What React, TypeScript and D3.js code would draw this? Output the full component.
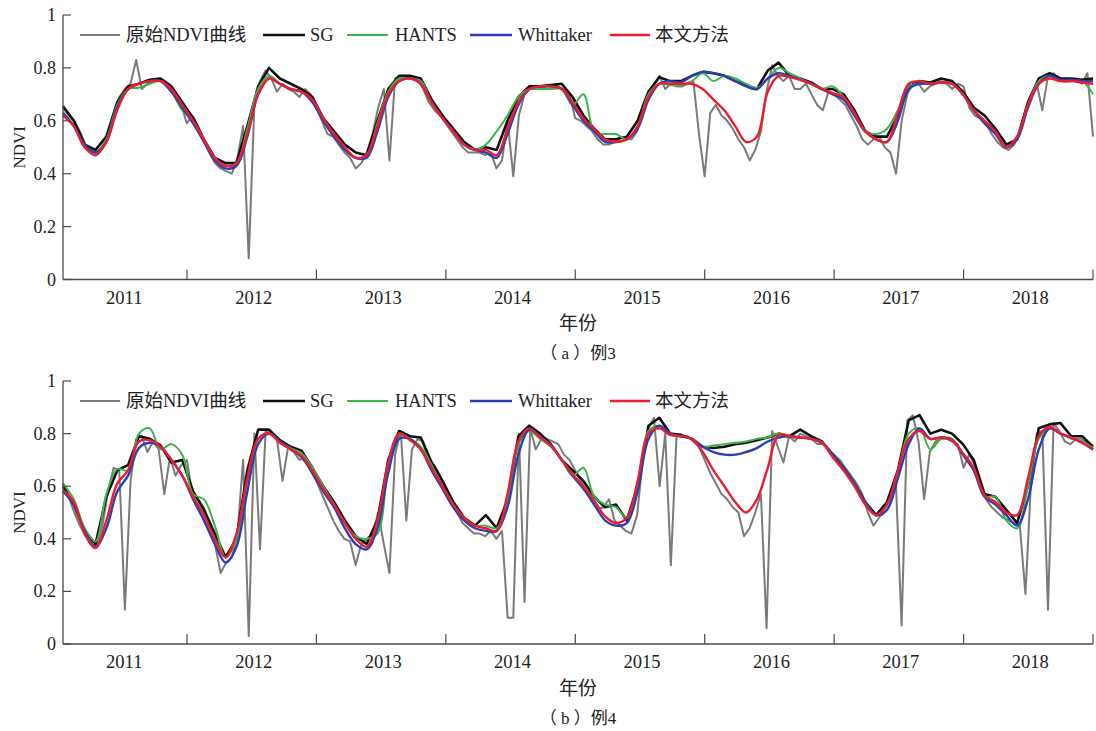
import React from "react";
import * as d3 from "d3";

// ---------- data ----------
const startYear = 2011.042;
const endYear = 2019.0;
const yearBoundaries = [2012, 2013, 2014, 2015, 2016, 2017, 2018, 2019];
const yearLabels = ["2011", "2012", "2013", "2014", "2015", "2016", "2017", "2018"];
const yTicks = [0, 0.2, 0.4, 0.6, 0.8, 1];
const seriesNames = ["原始NDVI曲线", "SG", "HANTS", "Whittaker", "本文方法"];

// panel (a) 例3 — raw 16-day NDVI (23 per year)
const rawA = [
  0.65,0.62,0.60,0.56,0.51,0.49,0.48,0.50,0.55,0.63,0.69,0.72,0.74,0.83,0.72,0.74,0.75,0.76,0.75,0.73,0.70,0.66,0.59,
  0.62,0.58,0.53,0.48,0.44,0.42,0.41,0.40,0.46,0.58,0.08,0.66,0.75,0.79,0.76,0.71,0.74,0.72,0.71,0.69,0.72,0.70,0.66,
  0.60,0.55,0.54,0.51,0.48,0.46,0.42,0.44,0.48,0.55,0.65,0.72,0.45,0.76,0.77,0.77,0.76,0.76,0.72,0.67,0.64,0.62,0.59,
  0.56,0.53,0.50,0.48,0.48,0.48,0.47,0.48,0.42,0.45,0.60,0.39,0.62,0.70,0.72,0.72,0.72,0.73,0.73,0.73,0.72,0.70,0.61,
  0.60,0.58,0.56,0.53,0.51,0.51,0.52,0.54,0.53,0.53,0.56,0.66,0.71,0.74,0.77,0.72,0.74,0.73,0.73,0.74,0.75,0.55,0.39,
  0.63,0.66,0.62,0.60,0.57,0.53,0.50,0.45,0.49,0.56,0.71,0.81,0.77,0.75,0.77,0.72,0.72,0.74,0.70,0.66,0.64,0.71,0.70,
  0.68,0.66,0.62,0.58,0.53,0.51,0.53,0.54,0.50,0.48,0.40,0.60,0.70,0.74,0.74,0.71,0.73,0.74,0.75,0.74,0.72,0.74,0.73,
  0.65,0.62,0.61,0.59,0.55,0.52,0.50,0.49,0.51,0.56,0.64,0.70,0.74,0.64,0.77,0.78,0.76,0.75,0.75,0.76,0.74,0.78,0.54,
];
// smoothed series (12 per year)
const sgA = [
  0.655,0.60,0.51,0.49,0.54,0.67,0.73,0.74,0.755,0.76,0.73,0.67,
  0.61,0.53,0.46,0.44,0.44,0.58,0.73,0.80,0.76,0.74,0.72,0.69,
  0.61,0.56,0.51,0.48,0.47,0.60,0.72,0.77,0.77,0.76,0.68,0.62,
  0.57,0.52,0.49,0.50,0.49,0.60,0.69,0.73,0.73,0.735,0.74,0.69,
  0.62,0.57,0.53,0.53,0.54,0.60,0.71,0.765,0.75,0.75,0.77,0.785,
  0.78,0.77,0.75,0.735,0.72,0.79,0.82,0.77,0.76,0.745,0.72,0.72,
  0.70,0.64,0.56,0.54,0.54,0.62,0.73,0.75,0.745,0.76,0.75,0.71,
  0.65,0.62,0.57,0.51,0.53,0.67,0.76,0.78,0.76,0.76,0.755,0.76,
];
const hantsA = [
  0.63,0.58,0.50,0.48,0.53,0.66,0.72,0.725,0.74,0.75,0.71,0.64,
  0.60,0.53,0.46,0.43,0.44,0.57,0.72,0.77,0.74,0.72,0.71,0.68,
  0.60,0.55,0.50,0.46,0.47,0.59,0.71,0.76,0.76,0.75,0.67,0.61,
  0.56,0.51,0.49,0.51,0.56,0.62,0.69,0.72,0.72,0.72,0.72,0.66,
  0.70,0.56,0.55,0.55,0.53,0.58,0.70,0.74,0.735,0.735,0.75,0.78,
  0.75,0.77,0.76,0.74,0.725,0.76,0.80,0.78,0.76,0.74,0.72,0.73,
  0.69,0.62,0.56,0.55,0.57,0.64,0.73,0.74,0.74,0.745,0.74,0.70,
  0.64,0.60,0.56,0.50,0.54,0.66,0.75,0.77,0.75,0.75,0.75,0.70,
];
const whittakerA = [
  0.63,0.58,0.51,0.48,0.52,0.65,0.72,0.74,0.75,0.75,0.71,0.65,
  0.59,0.52,0.45,0.42,0.43,0.54,0.70,0.76,0.74,0.72,0.71,0.67,
  0.60,0.54,0.49,0.46,0.46,0.56,0.69,0.75,0.76,0.74,0.67,0.61,
  0.56,0.51,0.49,0.48,0.46,0.55,0.66,0.72,0.73,0.73,0.72,0.66,
  0.60,0.56,0.52,0.52,0.53,0.57,0.68,0.74,0.75,0.745,0.77,0.785,
  0.78,0.77,0.75,0.73,0.72,0.76,0.78,0.77,0.755,0.74,0.72,0.70,
  0.68,0.62,0.56,0.53,0.52,0.60,0.72,0.74,0.74,0.745,0.74,0.70,
  0.64,0.59,0.55,0.50,0.53,0.65,0.74,0.77,0.755,0.755,0.75,0.75,
];
const oursA = [
  0.62,0.58,0.50,0.47,0.52,0.64,0.72,0.74,0.75,0.75,0.72,0.66,
  0.60,0.53,0.46,0.43,0.44,0.55,0.70,0.76,0.74,0.72,0.71,0.68,
  0.61,0.55,0.50,0.46,0.47,0.58,0.70,0.75,0.76,0.74,0.67,0.61,
  0.56,0.51,0.49,0.49,0.47,0.57,0.67,0.72,0.73,0.73,0.72,0.67,
  0.61,0.57,0.53,0.52,0.53,0.58,0.69,0.74,0.74,0.74,0.74,0.72,
  0.68,0.64,0.58,0.52,0.54,0.71,0.77,0.765,0.755,0.74,0.72,0.705,
  0.69,0.63,0.56,0.53,0.52,0.63,0.74,0.75,0.74,0.745,0.74,0.70,
  0.64,0.60,0.56,0.50,0.54,0.66,0.74,0.76,0.75,0.75,0.745,0.74,
];

// panel (b) 例4
const rawB = [
  0.61,0.56,0.50,0.45,0.41,0.38,0.37,0.45,0.58,0.67,0.66,0.13,0.62,0.78,0.79,0.73,0.77,0.74,0.57,0.71,0.64,0.68,0.70,
  0.57,0.55,0.52,0.46,0.38,0.27,0.31,0.33,0.42,0.70,0.03,0.80,0.36,0.81,0.80,0.78,0.62,0.75,0.73,0.70,0.71,0.66,0.62,
  0.57,0.52,0.47,0.43,0.40,0.39,0.30,0.38,0.40,0.42,0.50,0.38,0.27,0.72,0.81,0.47,0.74,0.78,0.77,0.69,0.68,0.64,0.58,
  0.53,0.50,0.46,0.44,0.42,0.42,0.41,0.43,0.40,0.43,0.10,0.10,0.80,0.16,0.82,0.74,0.78,0.78,0.77,0.76,0.72,0.70,0.66,
  0.62,0.58,0.54,0.51,0.52,0.55,0.47,0.45,0.43,0.42,0.49,0.70,0.82,0.86,0.60,0.80,0.30,0.79,0.79,0.79,0.77,0.75,0.70,
  0.65,0.61,0.57,0.55,0.52,0.50,0.41,0.44,0.50,0.57,0.06,0.81,0.75,0.69,0.79,0.77,0.80,0.79,0.78,0.76,0.76,0.74,0.72,
  0.70,0.67,0.64,0.61,0.57,0.50,0.45,0.48,0.52,0.57,0.60,0.07,0.85,0.87,0.77,0.55,0.73,0.77,0.78,0.78,0.77,0.76,0.67,
  0.72,0.68,0.60,0.55,0.52,0.50,0.48,0.47,0.46,0.45,0.19,0.62,0.80,0.81,0.13,0.84,0.81,0.77,0.76,0.78,0.78,0.76,0.74,
];
const sgB = [
  0.60,0.53,0.43,0.38,0.56,0.66,0.68,0.79,0.78,0.755,0.69,0.70,
  0.58,0.51,0.42,0.33,0.40,0.66,0.815,0.815,0.775,0.75,0.735,0.67,
  0.60,0.54,0.47,0.41,0.38,0.47,0.70,0.81,0.79,0.785,0.69,0.62,
  0.54,0.48,0.45,0.49,0.44,0.55,0.79,0.83,0.80,0.76,0.70,0.66,
  0.62,0.56,0.52,0.53,0.47,0.60,0.83,0.86,0.80,0.795,0.78,0.75,
  0.745,0.75,0.76,0.765,0.775,0.785,0.80,0.79,0.815,0.79,0.77,0.72,
  0.67,0.61,0.54,0.49,0.54,0.66,0.85,0.87,0.80,0.815,0.80,0.76,
  0.70,0.57,0.56,0.51,0.46,0.60,0.82,0.835,0.84,0.79,0.79,0.75,
];
const hantsB = [
  0.61,0.55,0.44,0.39,0.57,0.665,0.66,0.80,0.82,0.74,0.76,0.72,
  0.57,0.55,0.45,0.33,0.40,0.62,0.78,0.80,0.77,0.745,0.725,0.67,
  0.60,0.53,0.46,0.41,0.40,0.42,0.67,0.80,0.78,0.75,0.68,0.60,
  0.53,0.48,0.45,0.45,0.44,0.55,0.76,0.81,0.78,0.75,0.70,0.64,
  0.67,0.56,0.53,0.52,0.48,0.60,0.81,0.83,0.80,0.79,0.78,0.75,
  0.755,0.76,0.765,0.77,0.78,0.785,0.80,0.785,0.785,0.78,0.765,0.72,
  0.67,0.61,0.54,0.49,0.53,0.65,0.80,0.82,0.74,0.78,0.78,0.72,
  0.66,0.56,0.56,0.47,0.44,0.60,0.78,0.82,0.80,0.78,0.77,0.745,
];
const whittakerB = [
  0.58,0.53,0.43,0.37,0.44,0.58,0.64,0.745,0.765,0.75,0.70,0.64,
  0.55,0.47,0.38,0.31,0.37,0.58,0.76,0.80,0.77,0.74,0.71,0.65,
  0.58,0.52,0.44,0.38,0.36,0.44,0.65,0.78,0.78,0.74,0.66,0.59,
  0.52,0.47,0.44,0.43,0.43,0.52,0.72,0.815,0.79,0.755,0.70,0.64,
  0.59,0.53,0.47,0.45,0.46,0.58,0.78,0.83,0.80,0.79,0.78,0.75,
  0.73,0.72,0.72,0.73,0.745,0.77,0.785,0.79,0.785,0.78,0.765,0.72,
  0.67,0.61,0.54,0.49,0.51,0.63,0.76,0.82,0.78,0.785,0.775,0.72,
  0.66,0.56,0.53,0.49,0.45,0.55,0.74,0.82,0.80,0.785,0.765,0.74,
];
const oursB = [
  0.585,0.54,0.42,0.365,0.47,0.61,0.66,0.77,0.775,0.75,0.70,0.64,
  0.56,0.49,0.40,0.33,0.42,0.63,0.78,0.80,0.765,0.74,0.715,0.66,
  0.59,0.53,0.46,0.40,0.37,0.47,0.69,0.80,0.775,0.74,0.67,0.60,
  0.53,0.48,0.45,0.44,0.43,0.57,0.77,0.82,0.785,0.755,0.70,0.645,
  0.60,0.545,0.485,0.46,0.48,0.62,0.80,0.82,0.795,0.79,0.78,0.73,
  0.66,0.60,0.54,0.50,0.55,0.67,0.795,0.79,0.785,0.78,0.765,0.71,
  0.66,0.60,0.53,0.49,0.53,0.66,0.78,0.81,0.78,0.785,0.775,0.725,
  0.67,0.565,0.54,0.50,0.49,0.63,0.79,0.825,0.80,0.785,0.765,0.74,
];

// ---------- styles ----------
const COLORS = ["#7a7a7a", "#111111", "#3cb44a", "#2d3fb0", "#ee1c2e"];
const WIDTHS = [2.0, 2.6, 2.0, 2.4, 2.4];
const SERIF = "'Liberation Serif', 'Times New Roman', 'Noto Sans CJK SC', serif";
const AXIS = "#4a4a4a";

const W = 1096;
const H = 731;
const X0 = 63;
const X1 = 1093;

type PanelProps = {
  yZero: number;
  yOne: number;
  raw: number[];
  smooth: number[][];
  caption: string;
};

function Panel({ yZero, yOne, raw, smooth, caption }: PanelProps) {
  const x = d3.scaleLinear().domain([startYear, endYear]).range([X0, X1]);
  const y = d3.scaleLinear().domain([0, 1]).range([yZero, yOne]);
  const dateOf = (n: number) => (i: number) => startYear + (i * (endYear - startYear)) / (n - 1);

  const makeLine = (arr: number[], curve: d3.CurveFactory) => {
    const dt = dateOf(arr.length);
    return d3
      .line<number>()
      .x((_, i) => x(dt(i)))
      .y((v) => y(v))
      .curve(curve)(arr) as string;
  };

  const curves: d3.CurveFactory[] = [
    d3.curveLinear,
    d3.curveLinear,
    d3.curveCatmullRom.alpha(0.5),
    d3.curveCatmullRom.alpha(0.5),
    d3.curveCatmullRom.alpha(0.5),
  ];
  const all = [raw, ...smooth];

  const legendY = yOne + 20;
  const legendItems = [
    { x1: 80, x2: 120, tx: 126 },
    { x1: 263, x2: 305, tx: 310 },
    { x1: 347, x2: 388, tx: 395 },
    { x1: 470, x2: 512, tx: 518 },
    { x1: 610, x2: 650, tx: 655 },
  ];
  const midX = (X0 + X1) / 2;

  return (
    <g>
      {all.map((arr, si) => (
        <path
          key={si}
          d={makeLine(arr, curves[si])}
          fill="none"
          stroke={COLORS[si]}
          strokeWidth={WIDTHS[si]}
          strokeLinejoin="round"
        />
      ))}
      <line x1={X0} x2={X0} y1={yOne} y2={yZero} stroke={AXIS} strokeWidth={1.3} />
      <line x1={X0} x2={X1} y1={yZero} y2={yZero} stroke={AXIS} strokeWidth={1.3} />
      {yTicks.map((t) => (
        <g key={t}>
          <line x1={X0} x2={X0 + 8} y1={y(t)} y2={y(t)} stroke={AXIS} strokeWidth={1.2} />
          <text
            x={X0 - 7}
            y={y(t)}
            textAnchor="end"
            dominantBaseline="central"
            fontFamily={SERIF}
            fontSize={18}
            fill="#222"
          >
            {d3.format("~g")(t)}
          </text>
        </g>
      ))}
      {yearBoundaries.map((b) => (
        <line key={b} x1={x(b)} x2={x(b)} y1={yZero} y2={yZero - 10} stroke={AXIS} strokeWidth={1.2} />
      ))}
      {yearLabels.map((lab) => (
        <text
          key={lab}
          x={x(+lab + 0.5) + 2}
          y={yZero + 24}
          textAnchor="middle"
          fontFamily={SERIF}
          fontSize={18.5}
          fill="#222"
        >
          {lab}
        </text>
      ))}
      <text
        transform={`translate(19,${(yZero + yOne) / 2}) rotate(-90)`}
        textAnchor="middle"
        dominantBaseline="central"
        fontFamily={SERIF}
        fontSize={17}
        fill="#222"
      >
        NDVI
      </text>
      <text
        x={midX}
        y={yZero + 44}
        textAnchor="middle"
        dominantBaseline="central"
        fontFamily={SERIF}
        fontSize={19}
        fill="#222"
      >
        年份
      </text>
      <text
        x={midX}
        y={yZero + 74}
        textAnchor="middle"
        dominantBaseline="central"
        fontFamily={SERIF}
        fontSize={17}
        fill="#222"
      >
        {caption}
      </text>
      {legendItems.map((it, i) => (
        <g key={i}>
          <line
            x1={it.x1}
            x2={it.x2}
            y1={legendY}
            y2={legendY}
            stroke={COLORS[i]}
            strokeWidth={WIDTHS[i]}
          />
          <text
            x={it.tx}
            y={legendY}
            dominantBaseline="central"
            fontFamily={SERIF}
            fontSize={18.5}
            fill="#222"
          >
            {seriesNames[i]}
          </text>
        </g>
      ))}
    </g>
  );
}

export default function App() {
  return (
    <svg
      width={W}
      height={H}
      viewBox={`0 0 ${W} ${H}`}
      style={{ position: "absolute", left: 0, top: 0, background: "#fff" }}
    >
      <rect x={0} y={0} width={W} height={H} fill="#fff" />
      <Panel
        yZero={279.5}
        yOne={15}
        raw={rawA}
        smooth={[sgA, hantsA, whittakerA, oursA]}
        caption="（ a ）例3"
      />
      <Panel
        yZero={644}
        yOne={381}
        raw={rawB}
        smooth={[sgB, hantsB, whittakerB, oursB]}
        caption="（ b ）例4"
      />
    </svg>
  );
}
